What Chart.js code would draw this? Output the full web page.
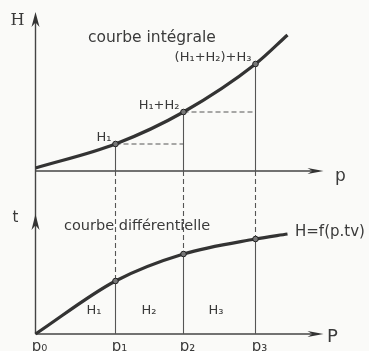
<!DOCTYPE html>
<html>
<head>
<meta charset="utf-8">
<script src="https://cdn.jsdelivr.net/npm/chart.js@4.4.1/dist/chart.umd.min.js"></script>
<style>
  html, body { margin: 0; padding: 0; background: #fafaf8; }
  canvas { display: block; }
</style>
</head>
<body>
<canvas id="chart" width="369" height="351"></canvas>
<script>
// abscisses p0..p3, puis la fin du trace
const pValues = [0, 4.0, 7.4, 11.0, 12.6]
const pLabels = ['p₀', 'p₁', 'p₂', 'p₃']
// courbe integrale (cumul des H)
const hValues = [0.3, 2.7, 5.9, 10.7, 13.6]
const hLabels = [null, 'H₁', 'H₁+H₂', '(H₁+H₂)+H₃', null]
// courbe differentielle
const tValues = [0, 5.3, 8.0, 9.5, 10.0]
const areaLabels = ['H₁', 'H₂', 'H₃']

const ink = '#333'
const sans = '"DejaVu Sans", sans-serif'
const serif = '"DejaVu Serif", serif'

// longueur des axes dessines
const pAxisEnd = 14.4
const hAxisEnd = 15.9
const tAxisEnd = 12.0

const markers = pValues.map((p, i) => (i === 0 || i === pValues.length - 1) ? 0 : 2.8)

function arrow(ctx, x, y, dir, len, w) {
  ctx.save()
  ctx.translate(x, y)
  ctx.rotate(dir)
  ctx.beginPath()
  ctx.moveTo(0, 0)
  ctx.lineTo(-len, -w)
  ctx.lineTo(-len * 0.7, 0)
  ctx.lineTo(-len, w)
  ctx.closePath()
  ctx.fillStyle = ink
  ctx.fill()
  ctx.restore()
}

function line(ctx, x1, y1, x2, y2, dash) {
  ctx.beginPath()
  ctx.setLineDash(dash || [])
  ctx.moveTo(x1, y1)
  ctx.lineTo(x2, y2)
  ctx.stroke()
  ctx.setLineDash([])
}

function text(ctx, str, x, y, font, align) {
  ctx.font = font
  ctx.textAlign = align || 'left'
  ctx.textBaseline = 'alphabetic'
  ctx.fillStyle = '#3a3a3a'
  ctx.fillText(str, x, y)
}

const paper = {
  id: 'paper',
  beforeDraw(chart) {
    const ctx = chart.ctx
    ctx.save()
    ctx.fillStyle = '#fafaf8'
    ctx.fillRect(0, 0, chart.width, chart.height)
    ctx.restore()
  },
}

const drawing = {
  id: 'drawing',
  beforeDatasetsDraw(chart) {
    const ctx = chart.ctx
    const xs = chart.scales.x
    const yH = chart.scales.yH
    const yT = chart.scales.yT
    const x0 = xs.getPixelForValue(0)
    const hBase = yH.getPixelForValue(0)
    const tBase = yT.getPixelForValue(0)
    ctx.save()
    ctx.strokeStyle = '#444'

    // axes
    ctx.lineWidth = 1.4
    line(ctx, x0, yH.getPixelForValue(hAxisEnd) + 6, x0, tBase)
    line(ctx, x0, hBase, xs.getPixelForValue(pAxisEnd) - 5, hBase)
    line(ctx, x0, tBase, xs.getPixelForValue(pAxisEnd) - 5, tBase)
    arrow(ctx, x0, yH.getPixelForValue(hAxisEnd), -Math.PI / 2, 15, 4)
    arrow(ctx, x0, yT.getPixelForValue(tAxisEnd), -Math.PI / 2, 16, 4)
    arrow(ctx, xs.getPixelForValue(pAxisEnd), hBase, 0, 16, 3)
    arrow(ctx, xs.getPixelForValue(pAxisEnd), tBase, 0, 16, 3)

    // rappels verticaux et horizontaux
    ctx.lineWidth = 1.1
    ctx.strokeStyle = '#555'
    for (let i = 1; i <= 3; i++) {
      const x = xs.getPixelForValue(pValues[i])
      const yh = yH.getPixelForValue(hValues[i])
      const yt = yT.getPixelForValue(tValues[i])
      line(ctx, x, yh, x, hBase)
      line(ctx, x, hBase, x, yt, [5, 3])
      line(ctx, x, yt, x, tBase)
    }
    for (let i = 1; i <= 2; i++) {
      const y = yH.getPixelForValue(hValues[i])
      line(ctx, xs.getPixelForValue(pValues[i]), y, xs.getPixelForValue(pValues[i + 1]), y, [5, 3])
    }
    ctx.restore()
  },
  afterDatasetsDraw(chart) {
    const ctx = chart.ctx
    const xs = chart.scales.x
    const yH = chart.scales.yH
    const yT = chart.scales.yT
    const x0 = xs.getPixelForValue(0)
    const hBase = yH.getPixelForValue(0)
    const tBase = yT.getPixelForValue(0)
    const xEnd = xs.getPixelForValue(pAxisEnd)
    ctx.save()

    // noms des axes
    text(ctx, 'H', x0 - 18, yH.getPixelForValue(hAxisEnd) + 13, '16px ' + serif, 'center')
    text(ctx, 'p', xEnd + 17, hBase + 10, '17px ' + sans, 'center')
    text(ctx, 't', x0 - 20, yT.getPixelForValue(tAxisEnd) + 8, '15px ' + sans, 'center')
    text(ctx, 'P', xEnd + 9, tBase + 8, '18px ' + sans, 'center')
    pLabels.forEach((s, i) => {
      text(ctx, s, xs.getPixelForValue(pValues[i]) + 4, tBase + 17, '15px ' + sans, 'center')
    })

    // titres
    text(ctx, 'courbe intégrale', 88, 42, '15.5px ' + sans)
    text(ctx, 'courbe différentielle', 64, 230, '14.5px ' + sans)
    text(ctx, 'H=f(p.tv)', 295, 236, '15px ' + sans)

    // etiquettes de la courbe integrale
    hLabels.forEach((s, i) => {
      if (!s) return
      text(ctx, s, xs.getPixelForValue(pValues[i]) - 4, yH.getPixelForValue(hValues[i]) - 3, '13px ' + sans, 'right')
    })

    // aires sous la courbe differentielle
    const areaX = [94, 149, 216]
    areaLabels.forEach((s, i) => {
      text(ctx, s, areaX[i], tBase - 20, '13px ' + sans, 'center')
    })
    ctx.restore()
  },
}

const chart = new Chart(document.getElementById('chart'), {
  type: 'line',
  data: {
    datasets: [
      {
        label: 'courbe intégrale',
        data: pValues.map((p, i) => ({ x: p, y: hValues[i] })),
        yAxisID: 'yH',
        borderColor: ink,
        borderWidth: 3.2,
        cubicInterpolationMode: 'monotone',
        pointRadius: markers,
        pointBackgroundColor: '#777',
        pointBorderColor: '#222',
        pointBorderWidth: 1,
      },
      {
        label: 'courbe différentielle',
        data: pValues.map((p, i) => ({ x: p, y: tValues[i] })),
        yAxisID: 'yT',
        borderColor: ink,
        borderWidth: 3.2,
        cubicInterpolationMode: 'monotone',
        pointRadius: markers,
        pointBackgroundColor: '#777',
        pointBorderColor: '#222',
        pointBorderWidth: 1,
      },
    ],
  },
  options: {
    responsive: false,
    animation: false,
    layout: { padding: 0 },
    plugins: {
      legend: { display: false },
      tooltip: { enabled: false },
    },
    scales: {
      x: { type: 'linear', display: false, min: -1.775, max: 16.675 },
      yH: { type: 'linear', display: false, position: 'left', min: -18.0, max: 17.1 },
      yT: { type: 'linear', display: false, position: 'left', min: -1.7, max: 33.4 },
    },
  },
  plugins: [paper, drawing],
})
</script>
</body>
</html>
